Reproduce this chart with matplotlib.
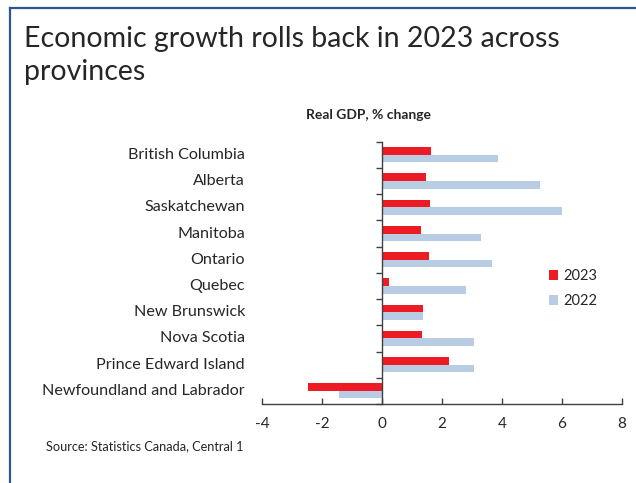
import matplotlib.pyplot as plt
from matplotlib.patches import Patch
import numpy as np

plt.rcParams['font.family'] = ['Lato', 'DejaVu Sans']

# data (real GDP, % change)
provinces = ["British Columbia", "Alberta", "Saskatchewan", "Manitoba", "Ontario",
             "Quebec", "New Brunswick", "Nova Scotia", "Prince Edward Island",
             "Newfoundland and Labrador"]
gdp_2023 = [1.62, 1.45, 1.59, 1.31, 1.57, 0.23, 1.35, 1.33, 2.22, -2.48]
gdp_2022 = [3.85, 5.28, 5.99, 3.31, 3.68, 2.80, 1.35, 3.05, 3.05, -1.45]
x_ticks = [-4, -2, 0, 2, 4, 6, 8]

RED = "#ED1C24"
BLUE = "#B8CCE4"
AXC = "#404040"
TXT = "#262626"

W, H = 636, 483
fig = plt.figure(figsize=(W / 100, H / 100), dpi=100)

# blue frame on top and left
fig.add_artist(plt.Line2D([9.5 / W, 9.5 / W], [0, 1 - 7.5 / H], color="#2F5597", lw=1.6,
                          transform=fig.transFigure))
fig.add_artist(plt.Line2D([9.5 / W, 1], [1 - 7.5 / H, 1 - 7.5 / H], color="#2F5597", lw=1.6,
                          transform=fig.transFigure))

ax = fig.add_axes([262 / W, 1 - 404 / H, 360 / W, (404 - 141.7) / H])

y = np.arange(len(provinces))
h = 0.29
ax.barh(y - h / 2, gdp_2023, height=h, color=RED, label="2023")
ax.barh(y + h / 2, gdp_2022, height=h, color=BLUE, label="2022")

ax.set_xlim(-4, 8)
ax.set_ylim(len(provinces) - 0.5, -0.5)
ax.set_xticks(x_ticks)
ax.set_xticklabels([str(t) for t in x_ticks])
ax.set_yticks(np.arange(-0.5, len(provinces), 1.0))
ax.set_yticklabels([])

for s in ["top", "right"]:
    ax.spines[s].set_visible(False)
ax.spines["left"].set_position(("data", 0))
for s in ["left", "bottom"]:
    ax.spines[s].set_color(AXC)
    ax.spines[s].set_linewidth(1.0)
ax.tick_params(axis="x", direction="in", length=4, width=1.0, color=AXC,
               labelsize=11, labelcolor=TXT, pad=9)
ax.tick_params(axis="y", direction="out", length=4, width=1.0, color=AXC)

for yi, name in zip(y, provinces):
    ax.text(-17 / 360, yi, name, transform=ax.get_yaxis_transform(), ha="right",
            va="center", fontsize=11.6, color=TXT)

handles = [Patch(facecolor=RED), Patch(facecolor=BLUE)]
fig.legend(handles, ["2023", "2022"], loc="upper left",
           bbox_to_anchor=(549 / W, 1 - 269 / H), frameon=False, fontsize=10.5,
           handlelength=0.65, handleheight=0.65, handletextpad=0.3,
           labelspacing=0.75, borderpad=0, borderaxespad=0, labelcolor=TXT)

fig.text(24 / W, 1 - 47 / H, "Economic growth rolls back in 2023 across",
         fontsize=20.5, color=TXT, ha="left", va="baseline")
fig.text(24 / W, 1 - 80 / H, "provinces",
         fontsize=20.5, color=TXT, ha="left", va="baseline")
fig.text(369 / W, 1 - 115 / H, "Real GDP, % change", fontsize=10, fontweight="bold",
         color=TXT, ha="center", va="center")
fig.text(46.5 / W, 1 - 446 / H, "Source: Statistics Canada, Central 1", fontsize=9.2,
         color=TXT, ha="left", va="center")

fig.savefig("out.png", dpi=100)
